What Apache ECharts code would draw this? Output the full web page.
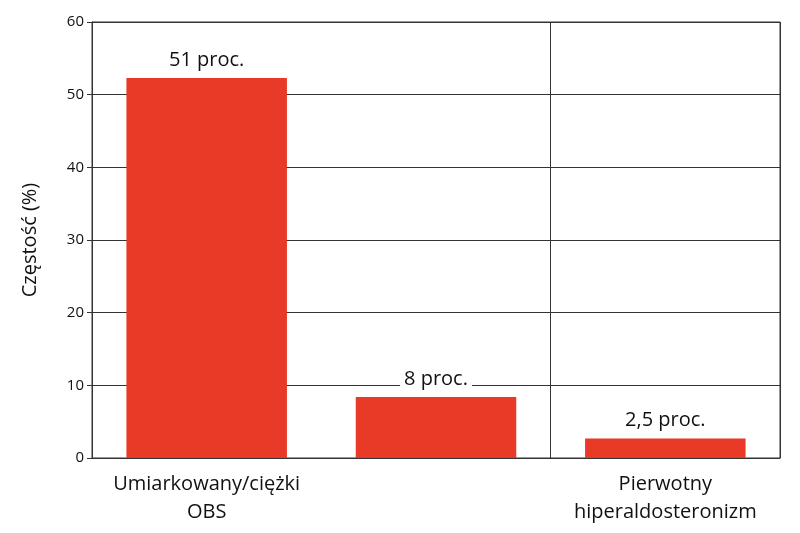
<!DOCTYPE html><html><head><meta charset="utf-8"><script src="https://cdn.jsdelivr.net/npm/echarts@6/dist/echarts.min.js"></script></head><body style="margin:0"><div id="c" style="width:800px;height:533px"></div><script>
const categories=['Umiarkowany/ciężki\nOBS','ZTN','Pierwotny\nhiperaldosteronizm'];
const values=[52.3,8.4,2.7];
const labels=['51 proc.','8 proc.','2,5 proc.'];
const ch=echarts.init(document.getElementById('c'));
ch.setOption({
 grid:{left:92,right:20,top:22,bottom:75,show:true,borderColor:'#333',borderWidth:1},
 xAxis:{type:'category',data:categories,axisLine:{lineStyle:{color:'#333'}},
  axisTick:{length:10,lineStyle:{color:'#333'}},
  splitLine:{show:true,lineStyle:{color:'#333'}},
  axisLabel:{color:'#111',fontSize:20,fontFamily:'Open Sans',lineHeight:28,margin:12}},
 yAxis:{type:'value',min:0,max:60,interval:10,name:'Częstość (%)',nameLocation:'middle',nameGap:52,
  nameTextStyle:{fontSize:20,color:'#111',fontFamily:'Open Sans'},
  axisLine:{show:true,lineStyle:{color:'#333'}},axisTick:{show:true,length:5,lineStyle:{color:'#333'}},
  splitLine:{lineStyle:{color:'#333'}},axisLabel:{color:'#111',fontSize:15,fontFamily:'Open Sans'}},
 series:[{type:'bar',data:values,barWidth:'70%',itemStyle:{color:'#e83a26'},
  label:{show:true,position:'top',distance:8,formatter:p=>labels[p.dataIndex],fontSize:20,color:'#111',fontFamily:'Open Sans',backgroundColor:'#fff',padding:[0,4]}}]
});
</script></body></html>
